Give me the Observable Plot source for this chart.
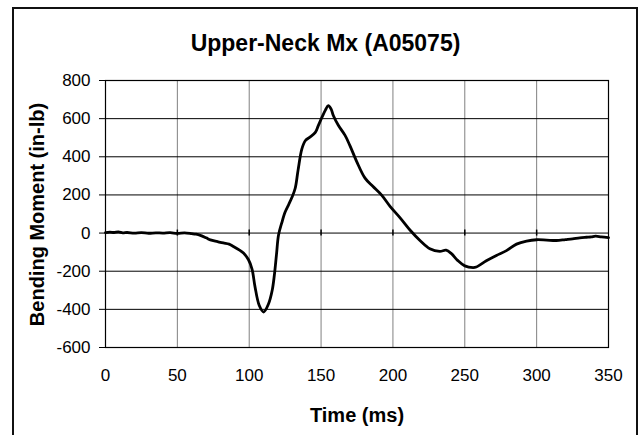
<!DOCTYPE html>
<html>
<head>
<meta charset="utf-8">
<script src="https://cdn.jsdelivr.net/npm/d3@7"></script>
<script src="https://cdn.jsdelivr.net/npm/@observablehq/plot@0.6"></script>
<style>
  html, body { margin: 0; padding: 0; background: #fff; }
  #wrap { position: relative; width: 639px; height: 435px; overflow: hidden; }
  #border { position: absolute; left: 12px; top: 7px; width: 626px; height: 500px; box-sizing: border-box; border: 2px solid #111; pointer-events: none; }
</style>
</head>
<body>
<div id="wrap"><div id="border"></div></div>
<script>
const title = "Upper-Neck Mx (A05075)";
const xLabel = "Time (ms)";
const yLabel = "Bending Moment (in-lb)";
const xTicks = [0, 50, 100, 150, 200, 250, 300, 350];
const yTicks = [-600, -400, -200, 0, 200, 400, 600, 800];

const timeMs = [0,3,6,9,12,15,20,25,30,35,40,45,50,55,60,63,66,70,73,78,82,86,89,93,96,99.5,102,104,107,110,113.4,116,117.5,119,120.4,122.7,125,127.5,129.6,132,134,136.6,139,142,146,148,150.5,153,155,157,158.6,162,166.7,170,174.8,180.6,186,192,198,205,212,219,225.7,232.6,237,240.7,245,250,255.8,258,265,272,279,286,293,300,307,313.7,320,325,330,334.5,338,341,345,350];
const momentInLb = [2,5,3,6,1,3,0,2,-1,1,0,2,-2,1,-3,-6,-12,-25,-36,-45,-52,-58,-70,-88,-105,-140,-190,-280,-380,-414,-372,-300,-220,-110,-10,55,110,150,185,235,330,440,484,502,528,562,605,645,668,650,615,565,512,460,375,288,245,200,140,80,15,-40,-82,-96,-90,-108,-143,-172,-181,-178,-145,-117,-92,-58,-42,-35,-37,-39,-34,-30,-25,-22,-20,-16,-20,-24];

const data = timeMs.map((t, i) => ({t, v: momentInLb[i]}));
const font = "'Liberation Sans', Arial, Helvetica, sans-serif";
const fmt = d => String(d);

const chart = Plot.plot({
  width: 639,
  height: 435,
  marginLeft: 105,
  marginRight: 31,
  marginTop: 80,
  marginBottom: 88,
  style: {fontFamily: font, color: "#000", background: "transparent", overflow: "visible"},
  x: {domain: [0, 350]},
  y: {domain: [-600, 800]},
  marks: [
    Plot.gridX(xTicks, {stroke: "#808080", strokeOpacity: 1, strokeWidth: 1}),
    Plot.gridY(yTicks, {stroke: "#000", strokeOpacity: 1, strokeWidth: 1}),
    Plot.ruleX(xTicks.slice(1, -1), {x: d => d, y1: 0, y2: 0, insetTop: -3, insetBottom: -3, stroke: "#000", strokeWidth: 1.5}),
    Plot.frame({stroke: "#000", strokeWidth: 1.2}),
    Plot.axisY(yTicks, {tickSize: 6, tickPadding: 9, fontSize: 17, label: null, stroke: "#000", tickFormat: fmt}),
    Plot.axisX(xTicks, {tickSize: 0, tickPadding: 21, fontSize: 17, label: null, tickFormat: fmt}),
    Plot.line(data, {x: "t", y: "v", stroke: "#000", strokeWidth: 2.8, curve: "catmull-rom"}),
    Plot.text([title], {frameAnchor: "top", text: d => d, dx: -31.5, dy: -36.4, fontSize: 23, fontWeight: "bold", lineAnchor: "middle", fill: "#000"}),
    Plot.text([yLabel], {frameAnchor: "left", text: d => d, rotate: -90, dx: -68.4, dy: 0.5, fontSize: 20, fontWeight: "bold", lineAnchor: "middle", textAnchor: "middle", fill: "#000"}),
    Plot.text([xLabel], {frameAnchor: "bottom", text: d => d, dx: 0, dy: 68.3, fontSize: 20, fontWeight: "bold", lineAnchor: "middle", fill: "#000"})
  ]
});
chart.style.position = "absolute";
chart.style.left = "0px";
chart.style.top = "0px";
document.getElementById("wrap").prepend(chart);
</script>
</body>
</html>
